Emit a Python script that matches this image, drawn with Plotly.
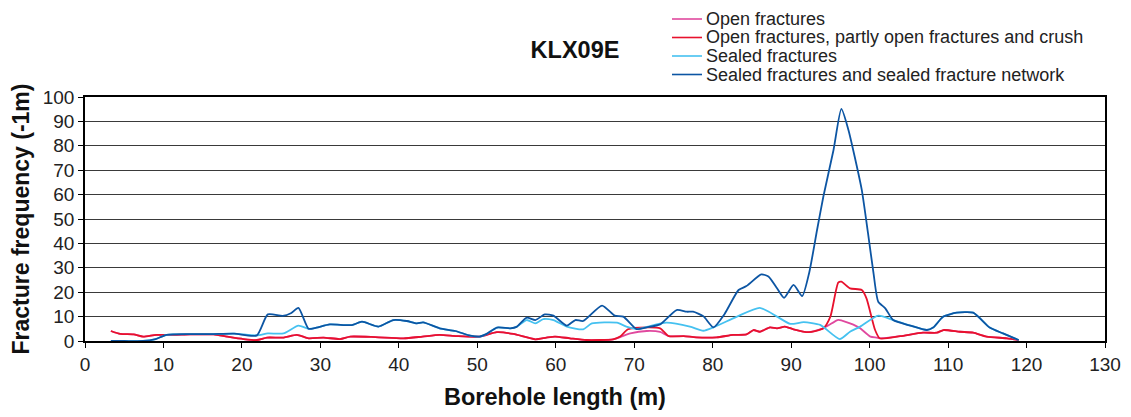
import plotly.graph_objects as go

# Sealed fractures and sealed fracture network
net_x = [3.3, 5, 7.4, 9, 10.4, 13.4, 16, 19, 21.9, 23.3, 25.2, 26.3, 27.2, 28.5, 29.5, 31.2, 34, 35.3, 37.4,
         39.3, 41, 42.3, 43.1, 45.2, 47.2, 49.1, 50.3, 51.2, 52.5, 54.2, 55, 56.3, 57.4, 58.6, 59.7, 61.4,
         62.5, 63.5, 65.9, 67.5, 68.6, 70.3, 71.6, 73.3, 75.4, 76.7, 77.5, 78.8, 80.1, 81.5, 83.3, 84.3,
         86.2, 87.1, 88.2, 89.1, 90.3, 91.4, 92.3, 93.3, 94.1, 95.4, 96.4, 97.3, 98.1, 99, 99.8, 100.5,
         101.1, 102, 103, 105.2, 107.3, 108.1, 109.4, 111.1, 113.2, 115.3, 117, 119]
net_y = [0, 0, 0, 0.8, 2.5, 2.8, 2.8, 3, 2.3, 10.9, 10.3, 11.5, 13.6, 5.0, 5.5, 6.8, 6.5, 7.9, 5.9,
         8.6, 8.2, 7.2, 7.6, 5.2, 4.1, 2.2, 1.8, 2.9, 5.5, 5.2, 5.8, 9.6, 8.6, 10.9, 10.4, 6.3,
         8.6, 8.2, 14.5, 10.4, 10.0, 4.9, 5.6, 6.8, 12.7, 12.0, 12.0, 10.2, 5.6, 11, 20.9, 22.5,
         27.3, 26.4, 21.6, 17.7, 23.0, 18.4, 28, 45.5, 59.1, 78.3, 95.1, 86.5, 75.5, 61.9, 44.1, 27.7,
         16.1, 13.4, 8.6, 6.3, 4.5, 5.5, 10, 11.6, 11.6, 5.5, 3.1, 0.4]

# Sealed fractures
sealed_x = [3.3, 5, 7.4, 9, 10.4, 13.4, 16, 19, 21.9, 23.3, 25.3, 27.2, 28.5, 29.5, 31.2, 34, 35.3, 37.4,
            39.3, 41, 42.3, 43.1, 45.2, 47.2, 49.1, 50.3, 51.2, 52.5, 54.2, 55, 56.3, 57.4, 58.4, 59.7,
            61.4, 63.5, 64.6, 67.8, 69, 70.3, 71.6, 74.1, 77.1, 78.8, 80.1, 83.1, 86, 88.2, 89.9, 91.6,
            93.7, 96.2, 97.5, 98.8, 101.1, 103, 105.2, 107.3, 108.1, 109.4, 111.1, 113.2, 115.3, 117, 119]
sealed_y = [0, 0, 0, 0.8, 2.5, 2.8, 2.8, 3, 2.3, 3.1, 3.1, 6.3, 5.0, 5.5, 6.8, 6.5, 7.9, 5.9,
            8.6, 8.2, 7.2, 7.6, 5.2, 4.1, 2.2, 1.8, 2.9, 5.5, 5.2, 5.8, 8.6, 7.2, 9.0, 8.6,
            5.9, 4.8, 7.2, 7.5, 5.9, 4.9, 5.8, 7.5, 5.9, 4.2, 5.6, 10, 13.6, 10, 7, 7.7,
            6.6, 0.8, 3.8, 5.9, 10.4, 8.6, 6.3, 4.5, 5.5, 10, 11.6, 11.6, 5.5, 3.1, 0.4]

# Open fractures, partly open fractures and crush
crush_x = [3.3, 4.5, 6.2, 7.4, 9.1, 11.3, 13.4, 16.4, 18.1, 20.2, 21.9, 23.2, 25.3, 27, 28.5, 30.4, 32.5,
           33.8, 37, 40.6, 43, 45.2, 47.4, 50.3, 52.5, 54.6, 57.4, 58.8, 59.9, 61.8, 63.9, 67.3, 68.2,
           69.2, 71.6, 73.3, 74.4, 76.3, 77.9, 80.5, 82.6, 84.3, 85.2, 86, 87.3, 88.2, 89.2, 90.3, 92.2,
           94.1, 95, 96, 96.4, 97.5, 99, 99.6, 100.7, 101.3, 103.9, 106.8, 108.6, 109.4, 111.5, 113.2,
           114.9, 117.5, 119]
crush_y = [4.1, 2.9, 2.7, 1.8, 2.5, 2.5, 2.7, 2.7, 1.8, 0.8, 0.4, 1.4, 1.4, 2.5, 1.1, 1.4, 0.8,
           1.8, 1.6, 1.1, 1.8, 2.5, 2.0, 1.8, 3.6, 2.9, 0.7, 1.4, 1.8, 1.1, 0.4, 0.7, 1.8,
           4.8, 5.6, 5.2, 2.0, 2.0, 1.5, 1.5, 2.5, 2.7, 4.5, 3.8, 5.6, 5.2, 5.9, 4.8, 3.6,
           5.2, 10, 23.9, 24.3, 21.6, 20.9, 17.5, 4.5, 1.1, 2.0, 3.4, 3.4, 4.5, 3.8, 3.4,
           1.8, 1.1, 0.4]

# Open fractures
open_x = [3.3, 4.5, 6.2, 7.4, 9.1, 11.3, 13.4, 16.4, 18.1, 20.2, 21.9, 23.2, 25.3, 27, 28.5, 30.4, 32.5,
          33.8, 37, 40.6, 43, 45.2, 47.4, 50.3, 52.5, 54.6, 57.4, 58.8, 59.9, 61.8, 63.9, 67.3, 68.2,
          69.5, 71.6, 73.3, 74.4, 76.3, 77.9, 80.5, 82.6, 84.3, 85.2, 86, 87.3, 88.2, 89.2, 90.3, 92.2,
          94.1, 95.9, 96.2, 97.5, 98.3, 98.8, 100.1, 100.9, 101.3, 103.9, 106.8, 108.6, 109.4, 111.5,
          113.2, 114.9, 117.5, 119]
open_y = [4.1, 2.9, 2.7, 1.8, 2.5, 2.5, 2.7, 2.7, 1.8, 0.8, 0.4, 1.4, 1.4, 2.5, 1.1, 1.4, 0.8,
          1.8, 1.6, 1.1, 1.8, 2.5, 2.0, 1.8, 3.6, 2.9, 0.7, 1.4, 1.8, 1.1, 0.4, 0.7, 1.6,
          3.1, 4.1, 3.7, 2.0, 2.0, 1.5, 1.5, 2.5, 2.7, 4.5, 3.8, 5.6, 5.2, 5.9, 4.8, 3.6,
          5.2, 8.6, 8.6, 7.2, 6.1, 5.2, 1.8, 1.4, 1.1, 2.0, 3.4, 3.4, 4.5, 3.8,
          3.4, 1.8, 1.1, 0.4]

x_ticks = list(range(0, 131, 10))
y_ticks = list(range(0, 101, 10))

series = [
    ("Open fractures", open_x, open_y, "#e0489e"),
    ("Open fractures, partly open fractures and crush", crush_x, crush_y, "#e8112d"),
    ("Sealed fractures", sealed_x, sealed_y, "#45c1f0"),
    ("Sealed fractures and sealed fracture network", net_x, net_y, "#0c55a3"),
]

font = "Liberation Sans, Arial, sans-serif"

# the page body has an 8px margin; figure laid out so the plot area lands where the original's is
OFF = 8
W, H = 1131 - OFF, 417 - OFF
L, R, T, B = 85 - OFF, 26, 97 - OFF, 76
pw, ph = W - L - R, H - T - B


def px_x(px):  # window pixel -> paper
    return (px - OFF - L) / pw


def px_y(py):
    return (H - B - (py - OFF)) / ph


fig = go.Figure()
for name, xs, ys, col in series:
    fig.add_trace(go.Scatter(x=xs, y=ys, mode="lines", name=name, showlegend=False,
                             line=dict(color=col, width=1.8, shape="spline", smoothing=0.6)))

# legend block (compact rows like the original)
row_y = [19, 37.5, 56, 74.5]
for (name, _, _, col), ry in zip(series, row_y):
    fig.add_shape(type="line", xref="paper", yref="paper",
                  x0=px_x(672), x1=px_x(702), y0=px_y(ry), y1=px_y(ry),
                  line=dict(color=col, width=1.6))
    fig.add_annotation(text=name, xref="paper", yref="paper", x=px_x(704), y=px_y(ry),
                       xanchor="left", yanchor="middle", showarrow=False,
                       font=dict(family=font, size=18, color="#222222"))

# x-axis title, placed left of the plot-area centre as in the original
fig.add_annotation(text="<b>Borehole length (m)</b>", xref="paper", yref="paper",
                   x=px_x(555), y=px_y(397), xanchor="center", yanchor="middle", showarrow=False,
                   font=dict(family=font, size=23.5, color="#111111"))

fig.update_layout(
    width=W, height=H,
    margin=dict(l=L, r=R, t=T, b=B),
    paper_bgcolor="white", plot_bgcolor="white",
    font=dict(family=font, color="#222222", size=19),
    title=dict(text="<b>KLX09E</b>", font=dict(family=font, size=23.5, color="#111111"),
               xref="container", yref="container", x=(575 - OFF) / W, y=1 - (50 - OFF) / H,
               xanchor="center", yanchor="middle"),
    showlegend=False,
    xaxis=dict(range=[0, 130], tickvals=x_ticks, ticks="outside", ticklen=5, tickcolor="black",
               showline=True, linecolor="black", linewidth=1.5, mirror=True, showgrid=False,
               zeroline=False, automargin=False, tickfont=dict(size=19, color="#222222")),
    yaxis=dict(range=[0, 100], tickvals=y_ticks, ticks="outside", ticklen=5, tickcolor="black",
               showline=True, linecolor="black", linewidth=1.5, mirror=True, showgrid=True,
               gridcolor="#3a3a3a", gridwidth=1, zeroline=False, automargin=False,
               tickfont=dict(size=19, color="#222222"),
               title=dict(text="<b>Fracture frequency (-1m)</b>", font=dict(size=23, color="#111111"),
                          standoff=12)),
)

fig.write_html("out.html")
